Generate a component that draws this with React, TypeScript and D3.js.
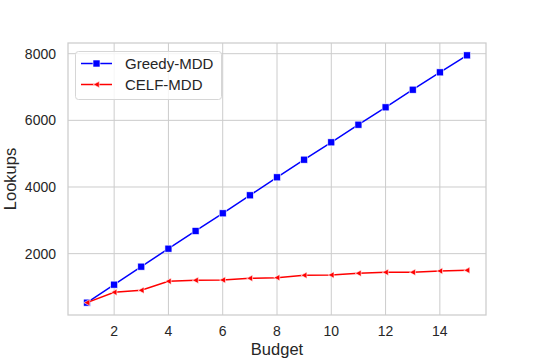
import React, { useEffect, useRef } from 'react';
import * as d3 from 'd3';

const budgets = [1, 2, 3, 4, 5, 6, 7, 8, 9, 10, 11, 12, 13, 14, 15];
const greedyMdd = [530, 1070, 1610, 2150, 2680, 3210, 3750, 4290, 4820, 5340, 5870, 6390, 6920, 7440, 7950];
const celfMdd = [530, 840, 900, 1170, 1200, 1210, 1260, 1280, 1350, 1360, 1410, 1440, 1440, 1480, 1500];
const xTicks = [2, 4, 6, 8, 10, 12, 14];
const yTicks = [2000, 4000, 6000, 8000];

const App = () => {
  const ref = useRef<SVGSVGElement>(null);

  useEffect(() => {
    const svg = d3.select(ref.current);
    svg.selectAll('*').remove();

    const width = 540;
    const height = 360;
    const margin = { top: 43, right: 54, bottom: 45, left: 68 };
    const font = 'Liberation Sans, Arial, sans-serif';
    const textColor = '#262626';
    const gridColor = '#cccccc';

    // matplotlib-style 5% padding
    const xPad = (d3.max(budgets)! - d3.min(budgets)!) * 0.05;
    const x = d3.scaleLinear()
      .domain([d3.min(budgets)! - xPad, d3.max(budgets)! + xPad])
      .range([margin.left, width - margin.right]);

    const all = [...greedyMdd, ...celfMdd];
    const yMin = d3.min(all)!;
    const yMax = d3.max(all)!;
    const yPad = (yMax - yMin) * 0.05;
    const y = d3.scaleLinear()
      .domain([yMin - yPad, yMax + yPad])
      .range([height - margin.bottom, margin.top]);

    // Grid
    const grid = svg.append('g');
    grid.selectAll('line.gx')
      .data(xTicks)
      .join('line')
      .attr('x1', d => x(d)).attr('x2', d => x(d))
      .attr('y1', margin.top).attr('y2', height - margin.bottom)
      .attr('stroke', gridColor).attr('stroke-width', 1);
    grid.selectAll('line.gy')
      .data(yTicks)
      .join('line')
      .attr('class', 'gy')
      .attr('x1', margin.left).attr('x2', width - margin.right)
      .attr('y1', d => y(d)).attr('y2', d => y(d))
      .attr('stroke', gridColor).attr('stroke-width', 1);

    // Frame
    svg.append('rect')
      .attr('x', margin.left).attr('y', margin.top)
      .attr('width', width - margin.left - margin.right)
      .attr('height', height - margin.top - margin.bottom)
      .attr('fill', 'none').attr('stroke', gridColor).attr('stroke-width', 1.25);

    // Tick labels
    svg.append('g').selectAll('text')
      .data(xTicks)
      .join('text')
      .attr('x', d => x(d))
      .attr('y', height - margin.bottom + 21)
      .attr('text-anchor', 'middle')
      .attr('font-family', font).attr('font-size', 14).attr('fill', textColor)
      .text(d => d);
    svg.append('g').selectAll('text')
      .data(yTicks)
      .join('text')
      .attr('x', margin.left - 12)
      .attr('y', d => y(d) + 5)
      .attr('text-anchor', 'end')
      .attr('font-family', font).attr('font-size', 14).attr('fill', textColor)
      .text(d => d);

    // Axis labels
    svg.append('text')
      .attr('x', (margin.left + width - margin.right) / 2)
      .attr('y', height - 5)
      .attr('text-anchor', 'middle')
      .attr('font-family', font).attr('font-size', 16.5).attr('fill', textColor)
      .text('Budget');
    svg.append('text')
      .attr('transform', `translate(16,${(margin.top + height - margin.bottom) / 2}) rotate(-90)`)
      .attr('text-anchor', 'middle')
      .attr('font-family', font).attr('font-size', 16.5).attr('fill', textColor)
      .text('Lookups');

    const line = d3.line<number>()
      .x((_, i) => x(budgets[i]))
      .y(d => y(d));

    const tri = (cx: number, cy: number, r: number) =>
      `M${cx - r},${cy} L${cx + r * 0.85},${cy - r} L${cx + r * 0.85},${cy + r} Z`;

    // Greedy-MDD
    svg.append('path').datum(greedyMdd)
      .attr('d', line).attr('fill', 'none')
      .attr('stroke', '#0000ff').attr('stroke-width', 1.5);
    svg.append('g').selectAll('rect')
      .data(greedyMdd)
      .join('rect')
      .attr('x', (_, i) => x(budgets[i]) - 3.5)
      .attr('y', d => y(d) - 3.5)
      .attr('width', 7).attr('height', 7)
      .attr('fill', '#0000ff').attr('stroke', 'white').attr('stroke-width', 0.6);

    // CELF-MDD
    svg.append('path').datum(celfMdd)
      .attr('d', line).attr('fill', 'none')
      .attr('stroke', '#ff0000').attr('stroke-width', 1.5);
    svg.append('g').selectAll('path')
      .data(celfMdd)
      .join('path')
      .attr('d', (d, i) => tri(x(budgets[i]), y(d), 3.2))
      .attr('fill', '#ff0000').attr('stroke', 'white').attr('stroke-width', 0.6);

    // Legend
    const lg = svg.append('g');
    lg.append('rect')
      .attr('x', 75.5).attr('y', 51.5).attr('width', 146).attr('height', 48)
      .attr('rx', 3).attr('fill', 'white').attr('fill-opacity', 0.8)
      .attr('stroke', '#d6d6d6').attr('stroke-width', 1);
    const items = [
      { name: 'Greedy-MDD', color: '#0000ff', marker: 'square' },
      { name: 'CELF-MDD', color: '#ff0000', marker: 'tri' },
    ];
    items.forEach((it, i) => {
      const cy = 63.5 + i * 21;
      lg.append('line')
        .attr('x1', 81).attr('x2', 112).attr('y1', cy).attr('y2', cy)
        .attr('stroke', it.color).attr('stroke-width', 1.5);
      if (it.marker === 'square') {
        lg.append('rect')
          .attr('x', 96.5 - 3.5).attr('y', cy - 3.5).attr('width', 7).attr('height', 7)
          .attr('fill', it.color).attr('stroke', 'white').attr('stroke-width', 0.6);
      } else {
        lg.append('path')
          .attr('d', tri(96.5, cy, 3.2))
          .attr('fill', it.color).attr('stroke', 'white').attr('stroke-width', 0.6);
      }
      lg.append('text')
        .attr('x', 125).attr('y', cy + 5.5)
        .attr('font-family', font).attr('font-size', 15).attr('fill', textColor)
        .text(it.name);
    });
  }, []);

  return (
    <svg
      ref={ref}
      width={540}
      height={360}
      style={{ position: 'absolute', left: 0, top: 0, background: 'white' }}
    />
  );
};

export default App;
